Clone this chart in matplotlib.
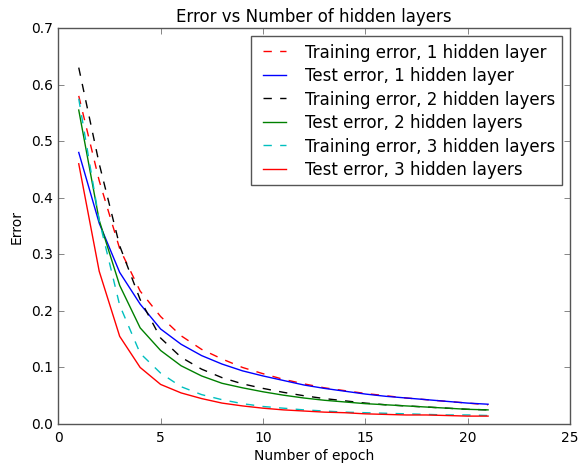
import numpy as np
import matplotlib
matplotlib.use("Agg")
import matplotlib.pyplot as plt

# epochs and error values
epochs = list(range(1, 22))

train_1 = [0.58, 0.43, 0.31, 0.235, 0.19, 0.156, 0.132, 0.115, 0.100, 0.089, 0.079,
           0.071, 0.064, 0.059, 0.054, 0.050, 0.046, 0.043, 0.040, 0.037, 0.034]
test_1 = [0.48, 0.355, 0.268, 0.212, 0.168, 0.141, 0.121, 0.106, 0.094, 0.085, 0.077,
          0.069, 0.063, 0.058, 0.053, 0.049, 0.046, 0.043, 0.040, 0.037, 0.035]
train_2 = [0.63, 0.46, 0.315, 0.22, 0.152, 0.118, 0.097, 0.082, 0.071, 0.063, 0.056,
           0.050, 0.045, 0.041, 0.037, 0.034, 0.032, 0.030, 0.028, 0.026, 0.025]
test_2 = [0.555, 0.36, 0.245, 0.17, 0.13, 0.103, 0.085, 0.072, 0.064, 0.057, 0.051,
          0.046, 0.042, 0.039, 0.036, 0.034, 0.032, 0.030, 0.028, 0.026, 0.025]
train_3 = [0.575, 0.36, 0.21, 0.125, 0.09, 0.066, 0.052, 0.043, 0.036, 0.031, 0.028,
           0.025, 0.023, 0.021, 0.020, 0.019, 0.018, 0.017, 0.016, 0.016, 0.015]
test_3 = [0.46, 0.27, 0.155, 0.10, 0.07, 0.055, 0.045, 0.037, 0.032, 0.028, 0.025,
          0.023, 0.021, 0.020, 0.018, 0.017, 0.016, 0.016, 0.015, 0.014, 0.014]

plt.style.use("classic")
plt.rcParams["figure.facecolor"] = "white"
plt.rcParams["savefig.facecolor"] = "white"
plt.rcParams["axes.edgecolor"] = "#555555"
plt.rcParams["xtick.color"] = "#555555"
plt.rcParams["ytick.color"] = "#555555"
plt.rcParams["xtick.labelsize"] = 10
plt.rcParams["ytick.labelsize"] = 10

fig = plt.figure(figsize=(5.81, 4.64), dpi=100)
ax = fig.add_axes([0.1003, 0.084, 0.8807, 0.8535])

ax.plot(epochs, train_1, "r--", label="Training error, 1 hidden layer")
ax.plot(epochs, test_1, "b-", label="Test error, 1 hidden layer")
ax.plot(epochs, train_2, "k--", label="Training error, 2 hidden layers")
ax.plot(epochs, test_2, "g-", label="Test error, 2 hidden layers")
ax.plot(epochs, train_3, "c--", label="Training error, 3 hidden layers")
ax.plot(epochs, test_3, "r-", label="Test error, 3 hidden layers")

for lbl in ax.get_xticklabels() + ax.get_yticklabels():
    lbl.set_color("black")

ax.set_xlim(0, 25)
ax.set_ylim(0, 0.7)
ax.set_title("Error vs Number of hidden layers", fontsize=12)
ax.set_xlabel("Number of epoch", fontsize=10, labelpad=3)
ax.set_ylabel("Error", fontsize=10)
leg = ax.legend(loc="upper right", fontsize=12, labelspacing=0.33)
leg.get_frame().set_edgecolor("#555555")

fig.savefig("out.png", dpi=100)
